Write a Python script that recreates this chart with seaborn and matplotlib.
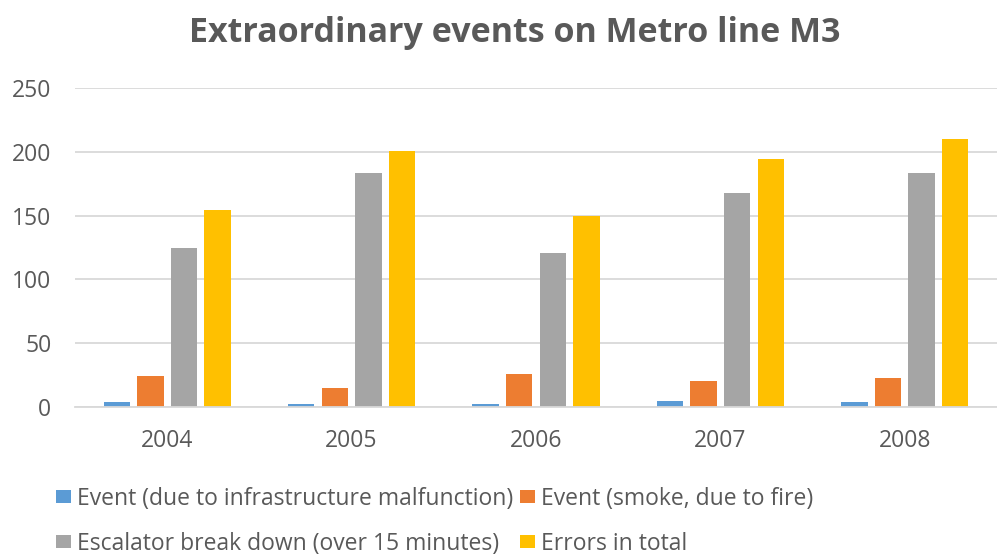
import matplotlib
matplotlib.use("Agg")
import matplotlib.pyplot as plt
import pandas as pd
import seaborn as sns

years = ["2004", "2005", "2006", "2007", "2008"]
infrastructure = [4, 2, 2, 5, 4]
smoke = [24, 15, 26, 20, 23]
escalator = [125, 183, 121, 168, 183]
total = [154, 201, 150, 194, 210]

series_names = [
    "Event (due to infrastructure malfunction)",
    "Event (smoke, due to fire)",
    "Escalator break down (over 15 minutes)",
    "Errors in total",
]
colors = ["#5B9BD5", "#ED7D31", "#A5A5A5", "#FFC000"]
text_color = "#595959"

df = pd.DataFrame({
    "year": years * 4,
    "count": infrastructure + smoke + escalator + total,
    "type": [n for n in series_names for _ in years],
})

sns.set_theme(style="white")
plt.rcParams["font.family"] = ["Open Sans", "DejaVu Sans"]

fig = plt.figure(figsize=(9.97, 5.6), dpi=100)
ax = fig.add_axes([75 / 997, 1 - 407 / 560, 922 / 997, 319 / 560])

sns.barplot(
    data=df, x="year", y="count", hue="type", hue_order=series_names,
    palette=colors, saturation=1, width=0.729, gap=0.217,
    linewidth=0, ax=ax,
)

ax.set_ylim(0, 250)
ax.set_xlim(-0.5, 4.5)
ax.set_yticks(range(0, 251, 50))
ax.yaxis.grid(True, color="#D9D9D9", linewidth=1.3)
ax.set_axisbelow(True)
for side in ["top", "right", "left"]:
    ax.spines[side].set_visible(False)
ax.spines["bottom"].set_color("#D9D9D9")
ax.spines["bottom"].set_linewidth(1.3)
ax.set_xlabel("")
ax.set_ylabel("")
ax.tick_params(axis="y", length=0, pad=17, labelsize=16.5, labelcolor=text_color)
ax.tick_params(axis="x", length=0, pad=16, labelsize=16.5, labelcolor=text_color)

handles, labels = ax.get_legend_handles_labels()
ax.get_legend().remove()
order = [0, 2, 1, 3]
fig.legend(
    [handles[i] for i in order], [labels[i] for i in order],
    loc="upper left", bbox_to_anchor=(56 / 997, 1 - 487 / 560),
    ncol=2, frameon=False, fontsize=16.5, labelcolor=text_color,
    handlelength=0.65, handleheight=0.5, handletextpad=0.26,
    columnspacing=0.3, labelspacing=0.92, borderpad=0, borderaxespad=0,
)

fig.text(515 / 997, 1 - 42 / 560, "Extraordinary events on Metro line M3",
         ha="center", va="baseline", fontsize=24.5, fontweight="bold",
         color=text_color)

fig.savefig("out.png", dpi=100)
